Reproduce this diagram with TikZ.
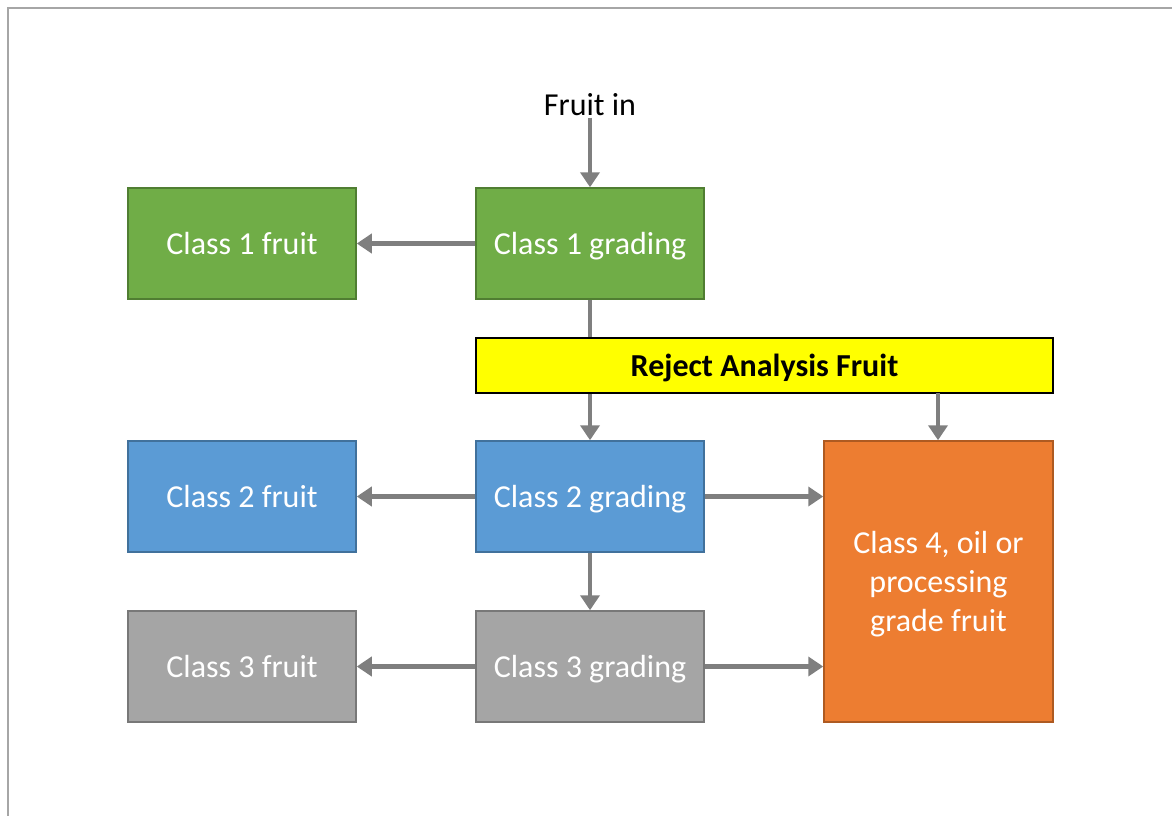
\documentclass[tikz,border=0pt]{standalone}
\usepackage{fontspec}
\setmainfont{Carlito}
\usetikzlibrary{arrows.meta,positioning}
\definecolor{grn}{HTML}{70AD47}\definecolor{grnd}{HTML}{507E32}
\definecolor{blu}{HTML}{5B9BD5}\definecolor{blud}{HTML}{41719C}
\definecolor{gry}{HTML}{A5A5A5}\definecolor{gryd}{HTML}{787878}
\definecolor{org}{HTML}{ED7D31}\definecolor{orgd}{HTML}{AE5A21}
\definecolor{arr}{HTML}{7F7F7F}\definecolor{frm}{HTML}{A6A6A6}
\definecolor{ylw}{HTML}{FFFF00}
\begin{document}
\begin{tikzpicture}[x=1pt,y=-1pt,
  box/.style={draw,line width=1.5pt,minimum width=228pt,minimum height=111pt,inner sep=0pt,text=white,
    font=\fontsize{32pt}{39pt}\selectfont,align=center,text depth=0pt},
  gbox/.style={box,fill=grn,draw=grnd},
  bbox/.style={box,fill=blu,draw=blud},
  ybox/.style={box,fill=gry,draw=gryd},
  conn/.style={draw=arr,line width=4.5pt},
  arw/.style={conn,-{Triangle[width=19pt,length=15pt]}}]
\useasboundingbox (0,0) rectangle (1172,816);
\draw[frm,line width=2pt] (8,816) -- (8,8) -- (1172,8);
\node[font=\fontsize{32pt}{39pt}\selectfont] (in) at (590,105) {Fruit in};
\node[gbox] (c1f) at (242,243.5) {Class 1 fruit};
\node[gbox] (c1g) at (590,243.5) {Class 1 grading};
\node[draw=black,fill=ylw,line width=1.5pt,minimum width=577pt,minimum height=55pt,inner sep=0pt,text depth=0pt,
  font=\bfseries\fontsize{32pt}{39pt}\selectfont] (rej) at (764.5,365.5) {Reject Analysis Fruit};
\node[bbox] (c2f) at (242,496.5) {Class 2 fruit};
\node[bbox] (c2g) at (590,496.5) {Class 2 grading};
\node[ybox] (c3f) at (242,666.5) {Class 3 fruit};
\node[ybox] (c3g) at (590,666.5) {Class 3 grading};
\node[box,fill=org,draw=orgd,minimum width=229pt,minimum height=281pt] (c4) at (938.5,581.5) {Class 4, oil or\\processing\\grade fruit};
\coordinate (r2) at (938,393);
\draw[arw] (in.south) ++(0,-2) -- (c1g.north);
\draw[arw] (c1g.west) -- (c1f.east);
\draw[conn] (c1g.south) -- (rej.north -| c1g.south);
\draw[arw] (rej.south -| c2g.north) -- (c2g.north);
\draw[arw] (r2) -- (r2 |- c4.north);
\draw[arw] (c2g.west) -- (c2f.east);
\draw[arw] (c2g.east) -- (c2g.east -| c4.west);
\draw[arw] (c2g.south) -- (c3g.north);
\draw[arw] (c3g.west) -- (c3f.east);
\draw[arw] (c3g.east) -- (c3g.east -| c4.west);
\end{tikzpicture}
\end{document}
